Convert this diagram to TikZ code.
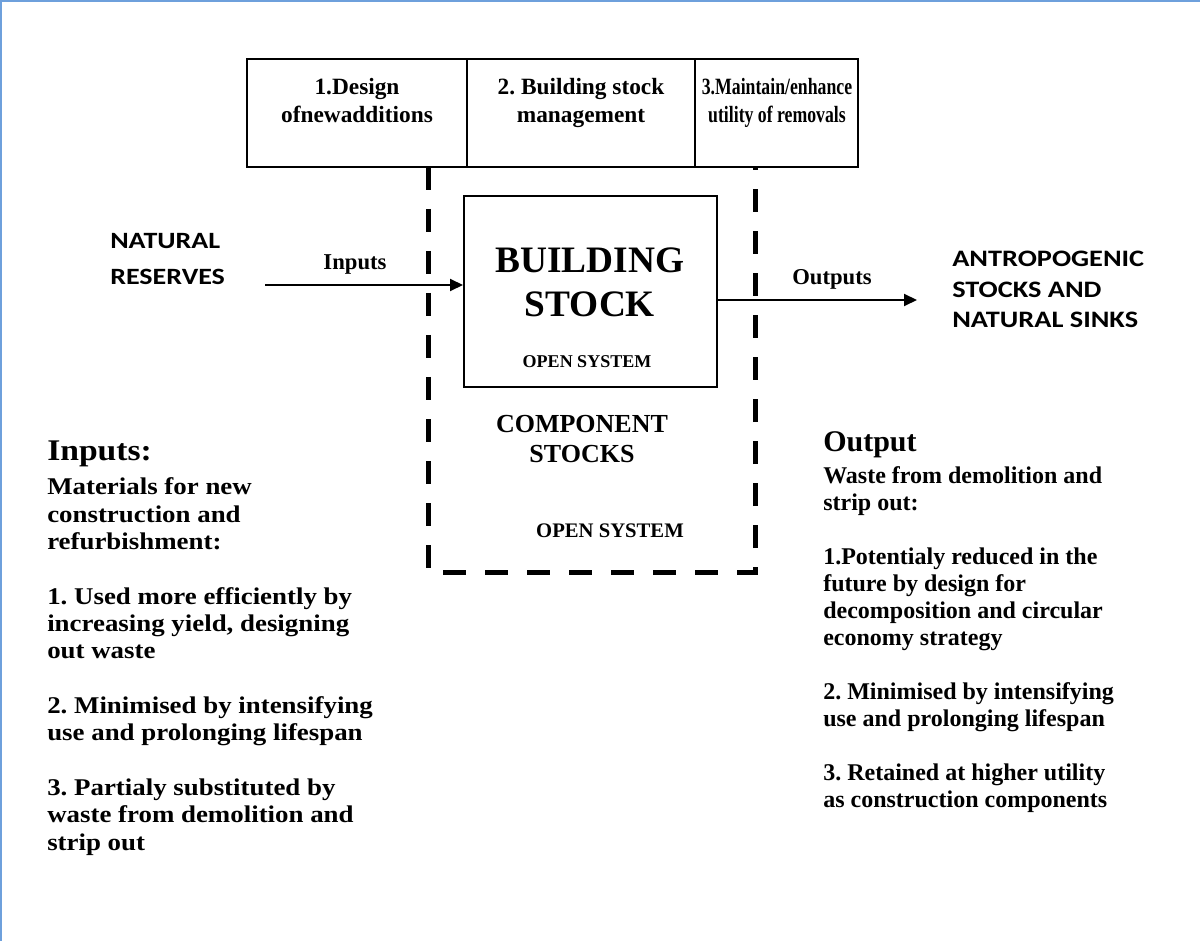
\documentclass[tikz,border=0pt]{standalone}
\usepackage{fontspec}
\setmainfont{Liberation Serif}
\newfontfamily\calib[FakeStretch=1.2]{Carlito}
\newfontfamily\serifwide[FakeStretch=1.12]{Liberation Serif}
\newfontfamily\serifnarrow[FakeStretch=0.76]{Liberation Serif}
\usetikzlibrary{arrows.meta}
\definecolor{frameblue}{RGB}{110,160,220}
\begin{document}
\frenchspacing
\begin{tikzpicture}[x=0.75pt,y=-0.75pt,
  box/.style={draw,line width=1.5pt,inner sep=0pt},
  topbox/.style={box,minimum height=81pt},
  boxtxt/.style={font=\bfseries\fontsize{17.5}{21}\selectfont,inner sep=0pt,align=center,anchor=base},
  bodytxt/.style={font=\bfseries\fontsize{18}{20.25}\selectfont,inner sep=0pt,align=left,anchor=base west},
  headtxt/.style={font=\bfseries\fontsize{22.5}{27}\selectfont,inner sep=0pt,anchor=base west},
  sanstxt/.style={font=\calib\bfseries\fontsize{17.7}{23}\selectfont,inner sep=0pt,align=left,anchor=base west},
  arr/.style={line width=1.5pt,-{Triangle[length=9.75pt,width=9pt]}},
  dashbox/.style={line width=3.75pt,dash pattern=on 17.25pt off 14.25pt}
]
\useasboundingbox (0,0) rectangle (1200,941);
\draw[frameblue,line width=1.5pt] (1,941) -- (1,1) -- (1200,1);

% top boxes
\node[topbox,minimum width=165pt] (b1) at (357,113) {};
\node[topbox,minimum width=171pt] (b2) at (581,113) {};
\node[topbox,minimum width=122.25pt] (b3) at (776.5,113) {};
\node[boxtxt] (t1) at (357,123) {1.Design\\ofnewadditions};
\node[boxtxt] (t2) at (581,123) {2. Building stock\\management};
\node[boxtxt,font=\serifnarrow\bfseries\fontsize{17.5}{21}\selectfont] (t3) at (777,123) {3.Maintain/enhance\\utility of removals};

% dashed system boundary
\draw[dashbox] (428,167) -- (428,572) -- (755,572) -- (755,167);

% building stock
\node[box,minimum width=189.75pt,minimum height=143.25pt] (stock) at (590.5,291.5) {};
\node[boxtxt,font=\bfseries\fontsize{28}{33}\selectfont] (bs) at (590,317) {BUILDING\\STOCK};
\node[boxtxt,font=\bfseries\fontsize{13.5}{16}\selectfont] (os1) at (587,368) {OPEN SYSTEM};
\node[boxtxt,font=\bfseries\fontsize{19.5}{22.5}\selectfont] (cs) at (582,462) {COMPONENT\\STOCKS};
\node[boxtxt,font=\bfseries\fontsize{15.5}{18}\selectfont] (os2) at (610,537) {OPEN SYSTEM};

% sources and sinks
\node[sanstxt,font=\calib\bfseries\fontsize{17.5}{27}\selectfont] (nat) at (110,285) {NATURAL\\RESERVES};
\node[sanstxt] (sink) at (952,328) {ANTROPOGENIC\\STOCKS AND\\NATURAL SINKS};

% arrows
\coordinate (inStart) at (265,285);
\coordinate (outEnd) at (917,300);
\draw[arr] (inStart) -- (stock.west |- inStart);
\draw[arr] (stock.east |- outEnd) -- (outEnd);
\node[boxtxt,font=\bfseries\fontsize{17}{21}\selectfont] (inl) at (355,270) {Inputs};
\node[boxtxt,font=\bfseries\fontsize{17}{21}\selectfont] (outl) at (832,285) {Outputs};

% left column
\node[headtxt,font=\serifwide\bfseries\fontsize{22.5}{27}\selectfont] (inhead) at (47,460) {Inputs:};
\node[bodytxt,font=\serifwide\bfseries\fontsize{18}{20.5}\selectfont] (inbody) at (47,850) {Materials for new\\construction and\\refurbishment:\\[20.5pt]1. Used more efficiently by\\increasing yield, designing\\out waste\\[20.5pt]2. Minimised by intensifying\\use and prolonging lifespan\\[20.5pt]3. Partialy substituted by\\waste from demolition and\\strip out};

% right column
\node[headtxt] (outhead) at (823,451) {Output};
\node[bodytxt] (outbody) at (823,807) {Waste from demolition and\\strip out:\\[20.25pt]1.Potentialy reduced in the\\future by design for\\decomposition and circular\\economy strategy\\[20.25pt]2. Minimised by intensifying\\use and prolonging lifespan\\[20.25pt]3. Retained at higher utility\\as construction components};
\end{tikzpicture}
\end{document}
